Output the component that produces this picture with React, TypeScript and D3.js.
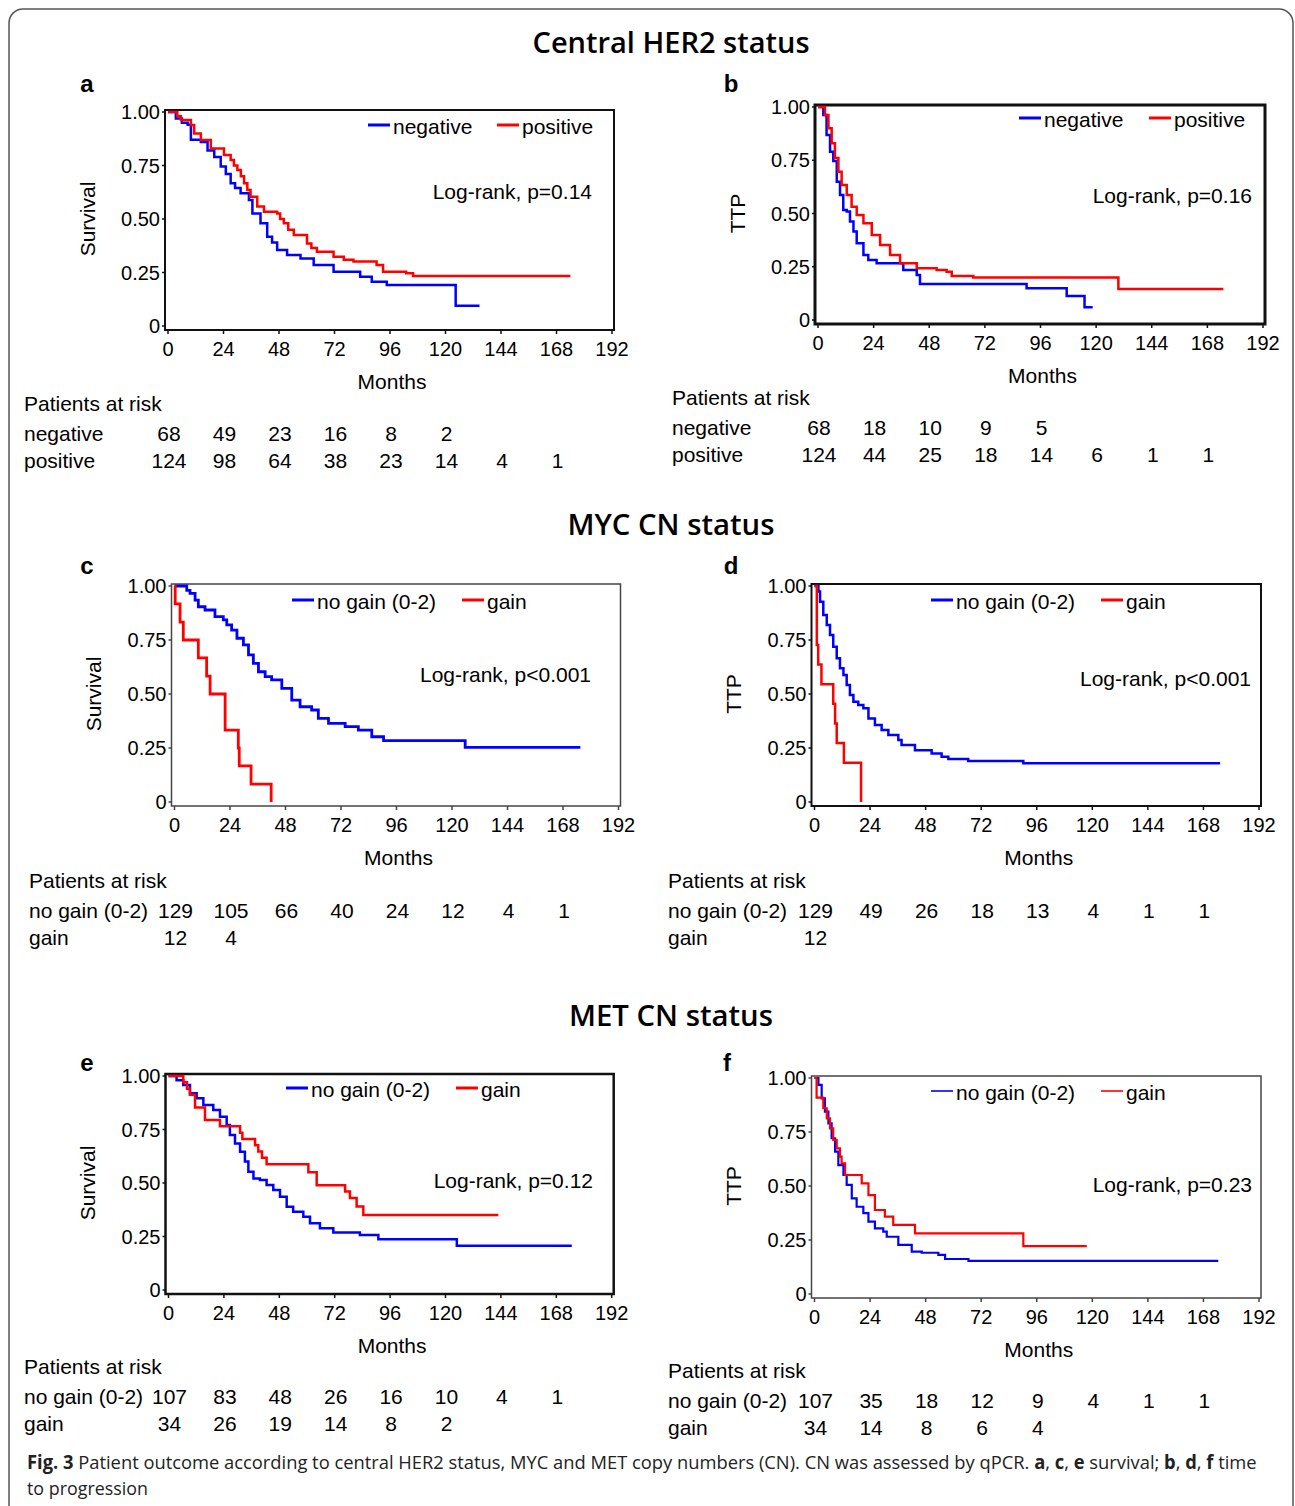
import React, { useLayoutEffect, useRef, useState } from 'react';
import * as d3 from 'd3';

type Pt = [number, number];

const MONTH_TICKS = [0, 24, 48, 72, 96, 120, 144, 168, 192];
const PROB_TICKS = [0, 0.25, 0.5, 0.75, 1];
const PROB_LABELS = ['0', '0.25', '0.50', '0.75', '1.00'];

// a: overall survival by central HER2
const HER2_OS_NEG: Pt[] = [
  [0, 1], [3.4, 0.97], [6, 0.95], [8.5, 0.94], [9.9, 0.87], [14.2, 0.86], [17.1, 0.82], [20, 0.79],
  [22.8, 0.745], [25, 0.71], [27.1, 0.667], [29, 0.645], [31.4, 0.62], [35, 0.589], [36.5, 0.526],
  [40, 0.48], [42.9, 0.417], [45, 0.39], [47.2, 0.355], [51.5, 0.332], [57.3, 0.316], [63, 0.285],
  [71.6, 0.254], [83.1, 0.23], [88.1, 0.207], [94.6, 0.192], [124.4, 0.095], [134.7, 0.095],
];
const HER2_OS_POS: Pt[] = [
  [0, 1], [4, 0.98], [5.6, 0.963], [9.9, 0.939], [11.3, 0.9], [14.2, 0.869], [18.5, 0.83], [24.2, 0.799],
  [27.1, 0.776], [28.5, 0.75], [30, 0.729], [31.5, 0.7], [32.9, 0.667], [34.3, 0.635], [35.7, 0.604],
  [38.6, 0.558], [41.5, 0.534], [47.2, 0.526], [48.5, 0.5], [50.1, 0.48], [52, 0.45], [54.4, 0.425],
  [60.1, 0.386], [62, 0.365], [64.4, 0.347], [71.6, 0.324], [76, 0.31], [80.2, 0.301], [90.2, 0.285],
  [93, 0.254], [103, 0.246], [106, 0.234], [174, 0.234],
];
// b: TTP by central HER2
const HER2_TTP_NEG: Pt[] = [
  [0, 1], [2.3, 0.962], [3.7, 0.869], [5.2, 0.79], [6.6, 0.746], [8.1, 0.649], [9.5, 0.587], [10.9, 0.516],
  [12.4, 0.509], [13.8, 0.462], [15.3, 0.415], [16.7, 0.36], [19.6, 0.305], [21.7, 0.282], [25.3, 0.266],
  [36.8, 0.235], [42.6, 0.211], [44, 0.169], [90, 0.149], [107.3, 0.113], [115, 0.06], [118.5, 0.06],
];
const HER2_TTP_POS: Pt[] = [
  [0, 1], [3, 0.962], [4.5, 0.9], [5.9, 0.83], [7.3, 0.76], [8.8, 0.696], [10.2, 0.634], [12.4, 0.587],
  [14.5, 0.532], [16.7, 0.493], [19.6, 0.454], [23.2, 0.399], [26.8, 0.352], [31.1, 0.305], [35.4, 0.266],
  [42.6, 0.243], [51.2, 0.235], [55.5, 0.227], [57.7, 0.207], [67, 0.2], [129.6, 0.146], [174.9, 0.146],
];
// c: overall survival by MYC CN
const MYC_OS_NOGAIN: Pt[] = [
  [0, 1], [5.3, 0.98], [6.7, 0.966], [8.9, 0.935], [10.3, 0.904], [13.2, 0.889], [17.5, 0.858], [21.1, 0.843],
  [22.6, 0.82], [24.7, 0.796], [27, 0.758], [29.8, 0.727], [32, 0.681], [34.1, 0.642], [36.3, 0.603],
  [39.2, 0.58], [42, 0.565], [46.4, 0.526], [50.7, 0.472], [54.3, 0.441], [59.3, 0.426], [62.2, 0.387],
  [66.6, 0.364], [73.8, 0.349], [79.5, 0.333], [85.3, 0.302], [90.4, 0.284], [125.7, 0.253], [175.5, 0.253],
];
const MYC_OS_GAIN: Pt[] = [
  [0, 1], [0.3, 0.917], [2.4, 0.833], [3.8, 0.75], [10.3, 0.667], [13.9, 0.583], [15.4, 0.5],
  [21.9, 0.333], [27.6, 0.25], [28, 0.167], [33.1, 0.083], [41.8, 0],
];
// d: TTP by MYC CN
const MYC_TTP_NOGAIN: Pt[] = [
  [0, 1], [1.7, 0.974], [2.4, 0.927], [3.8, 0.866], [5.3, 0.82], [6.7, 0.773], [8.1, 0.719], [9.6, 0.665],
  [11, 0.619], [12.5, 0.588], [13.9, 0.542], [15.3, 0.495], [16.8, 0.464], [18.9, 0.449], [21.1, 0.434],
  [23.3, 0.387], [26.1, 0.356], [29, 0.333], [31.9, 0.31], [36.2, 0.287], [37.6, 0.264], [43.4, 0.24],
  [50.6, 0.225], [54.9, 0.21], [57.8, 0.199], [66.4, 0.19], [90.2, 0.179], [175.2, 0.179],
];
const MYC_TTP_GAIN: Pt[] = [
  [0, 1], [1, 0.727], [1.6, 0.636], [3, 0.545], [8.1, 0.455], [8.9, 0.364], [9.6, 0.273], [12.7, 0.182], [20.1, 0],
];
// e: overall survival by MET CN
const MET_OS_NOGAIN: Pt[] = [
  [0, 1], [3.5, 0.98], [6.4, 0.958], [9.3, 0.919], [12.2, 0.896], [15.1, 0.864], [19.4, 0.841], [22.3, 0.81],
  [25.2, 0.771], [26.6, 0.724], [28.8, 0.685], [31, 0.646], [33.1, 0.6], [34.6, 0.553], [36.8, 0.521],
  [39.6, 0.514], [42.5, 0.491], [45.4, 0.467], [48.3, 0.436], [51.2, 0.389], [54, 0.366], [58.4, 0.342],
  [61.3, 0.312], [65.6, 0.288], [71.4, 0.269], [82.9, 0.257], [90.9, 0.237], [124.9, 0.207], [174.7, 0.207],
];
const MET_OS_GAIN: Pt[] = [
  [0, 1], [6.4, 0.971], [8, 0.941], [9.3, 0.912], [11.5, 0.853], [15.8, 0.794], [22.3, 0.765], [31, 0.735],
  [32, 0.706], [37.5, 0.676], [38.9, 0.647], [40.5, 0.618], [42.5, 0.588], [60.6, 0.55], [64.2, 0.49],
  [76.5, 0.46], [78.6, 0.43], [81.5, 0.39], [84.4, 0.35], [142.9, 0.35],
];
// f: TTP by MET CN
const MET_TTP_NOGAIN: Pt[] = [
  [0, 1], [1.7, 0.968], [3.1, 0.906], [4.5, 0.844], [6, 0.79], [7.4, 0.721], [8.9, 0.659], [10.3, 0.597],
  [12.5, 0.551], [13.9, 0.505], [16.1, 0.443], [18.2, 0.404], [21.1, 0.374], [23.3, 0.335], [26.1, 0.304],
  [29.7, 0.289], [31.2, 0.265], [36.2, 0.227], [42, 0.196], [46.3, 0.191], [53.5, 0.181], [56.4, 0.162],
  [66.5, 0.153], [174.4, 0.153],
];
const MET_TTP_GAIN: Pt[] = [
  [0, 1], [0.9, 0.909], [3.8, 0.86], [5.3, 0.813], [6.7, 0.767], [8.1, 0.713], [9.6, 0.674], [11, 0.636],
  [11.7, 0.605], [13.2, 0.551], [20.4, 0.512], [23.3, 0.458], [26.1, 0.389], [30.4, 0.358], [34, 0.32],
  [43.4, 0.281], [90.2, 0.222], [117.6, 0.222],
];

// patients at risk, at 0, 24, 48 ... months
const RISK_A_NEG = [68, 49, 23, 16, 8, 2];
const RISK_A_POS = [124, 98, 64, 38, 23, 14, 4, 1];
const RISK_B_NEG = [68, 18, 10, 9, 5];
const RISK_B_POS = [124, 44, 25, 18, 14, 6, 1, 1];
const RISK_C_NOGAIN = [129, 105, 66, 40, 24, 12, 4, 1];
const RISK_C_GAIN = [12, 4];
const RISK_D_NOGAIN = [129, 49, 26, 18, 13, 4, 1, 1];
const RISK_D_GAIN = [12];
const RISK_E_NOGAIN = [107, 83, 48, 26, 16, 10, 4, 1];
const RISK_E_GAIN = [34, 26, 19, 14, 8, 2];
const RISK_F_NOGAIN = [107, 35, 18, 12, 9, 4, 1, 1];
const RISK_F_GAIN = [34, 14, 8, 6, 4];

const HER2_GROUPS = ['negative', 'positive'];
const CN_GROUPS = ['no gain (0-2)', 'gain'];
const COLORS = ['#0000ff', '#ff0000'];

const FONT = '"Liberation Sans", Arial, sans-serif';

const panels = [
  { letter: 'a', letterX: 87, letterY: 83, yLabel: 'Survival', groups: HER2_GROUPS, curves: [HER2_OS_NEG, HER2_OS_POS], risk: [RISK_A_NEG, RISK_A_POS],
    p: 'Log-rank, p=0.14', x0: 168, x1: 612, yTop: 112, yBot: 326, frameW: 2,
    leg: [368, 497], legY: 125, lrX: 592, lrY: 191, riskX: 24, riskY: 403, lineW: 2.5 },
  { letter: 'b', letterX: 731, letterY: 83, yLabel: 'TTP', groups: HER2_GROUPS, curves: [HER2_TTP_NEG, HER2_TTP_POS], risk: [RISK_B_NEG, RISK_B_POS],
    p: 'Log-rank, p=0.16', x0: 818, x1: 1263, yTop: 107, yBot: 320, frameW: 3,
    leg: [1019, 1149], legY: 118, lrX: 1252, lrY: 195, riskX: 672, riskY: 397, lineW: 2.5 },
  { letter: 'c', letterX: 87, letterY: 565, yLabel: 'Survival', groups: CN_GROUPS, curves: [MYC_OS_NOGAIN, MYC_OS_GAIN], risk: [RISK_C_NOGAIN, RISK_C_GAIN],
    p: 'Log-rank, p<0.001', x0: 174.5, x1: 618.5, yTop: 586, yBot: 802, frameW: 1.5,
    leg: [292, 462], legY: 600, lrX: 591, lrY: 674, riskX: 29, riskY: 880, lineW: 2.8 },
  { letter: 'd', letterX: 731, letterY: 565, yLabel: 'TTP', groups: CN_GROUPS, curves: [MYC_TTP_NOGAIN, MYC_TTP_GAIN], risk: [RISK_D_NOGAIN, RISK_D_GAIN],
    p: 'Log-rank, p<0.001', x0: 814.5, x1: 1259, yTop: 586, yBot: 802, frameW: 2,
    leg: [931, 1101], legY: 600, lrX: 1251, lrY: 678, riskX: 668, riskY: 880, lineW: 2.5 },
  { letter: 'e', letterX: 87, letterY: 1062, yLabel: 'Survival', groups: CN_GROUPS, curves: [MET_OS_NOGAIN, MET_OS_GAIN], risk: [RISK_E_NOGAIN, RISK_E_GAIN],
    p: 'Log-rank, p=0.12', x0: 168.5, x1: 611.7, yTop: 1076, yBot: 1290, frameW: 2.5,
    leg: [286, 456], legY: 1088, lrX: 593, lrY: 1180, riskX: 24, riskY: 1366, lineW: 2.5 },
  { letter: 'f', letterX: 727, letterY: 1062, yLabel: 'TTP', groups: CN_GROUPS, curves: [MET_TTP_NOGAIN, MET_TTP_GAIN], risk: [RISK_F_NOGAIN, RISK_F_GAIN],
    p: 'Log-rank, p=0.23', x0: 814.5, x1: 1259, yTop: 1078, yBot: 1294, frameW: 1.5,
    leg: [931, 1101], legY: 1091, lrX: 1252, lrY: 1184, riskX: 668, riskY: 1370, lineW: 2.2 },
];

const sections = [
  { text: 'Central HER2 status', y: 42, w: 277 },
  { text: 'MYC CN status', y: 524, w: 207 },
  { text: 'MET CN status', y: 1015, w: 204 },
];

function Panel({ cfg }: { cfg: any }) {
  const x = d3.scaleLinear().domain([0, 192]).range([cfg.x0, cfg.x1]);
  const y = d3.scaleLinear().domain([0, 1]).range([cfg.yBot, cfg.yTop]);
  const line = d3.line<Pt>().x((d) => x(d[0])).y((d) => y(d[1])).curve(d3.curveStepAfter);
  const fl = cfg.x0 - 3;
  const fr = cfg.x1 + 2;
  const ft = cfg.yTop - 2;
  const fb = cfg.yBot + 4;
  const frameColor = cfg.frameW < 2 ? '#444' : '#111';

  return (
    <g fontFamily={FONT} fill="#000">
      {/* panel letter */}
      <text x={cfg.letterX} y={cfg.letterY} fontSize={24} fontWeight="bold" textAnchor="middle" dominantBaseline="central">
        {cfg.letter}
      </text>
      {/* y axis label */}
      <text transform={`translate(${cfg.x0 - 81},${(cfg.yTop + cfg.yBot) / 2}) rotate(-90)`} fontSize={21}
        textAnchor="middle" dominantBaseline="central">
        {cfg.yLabel}
      </text>
      {/* frame */}
      <rect x={fl} y={ft} width={fr - fl} height={fb - ft} fill="#fff" stroke={frameColor} strokeWidth={cfg.frameW} />
      {MONTH_TICKS.map((t) => (
        <g key={t}>
          <line x1={x(t)} x2={x(t)} y1={fb} y2={fb + 4} stroke={frameColor} strokeWidth={1.5} />
          <text x={x(t)} y={cfg.yBot + 23} fontSize={20} textAnchor="middle" dominantBaseline="central">{t}</text>
        </g>
      ))}
      {PROB_TICKS.map((v, i) => (
        <g key={v}>
          <line x1={fl} x2={fl - 3} y1={y(v)} y2={y(v)} stroke={frameColor} strokeWidth={1.5} />
          <text x={fl - 5} y={y(v)} fontSize={20} textAnchor="end" dominantBaseline="central">{PROB_LABELS[i]}</text>
        </g>
      ))}
      <text x={(cfg.x0 + cfg.x1) / 2 + 2} y={cfg.yBot + 55} fontSize={21} textAnchor="middle" dominantBaseline="central">
        Months
      </text>
      {/* curves */}
      {cfg.curves.map((c: Pt[], i: number) => (
        <path key={i} d={line(c) || ''} fill="none" stroke={COLORS[i]} strokeWidth={cfg.lineW} />
      ))}
      {/* legend */}
      {cfg.groups.map((g: string, i: number) => (
        <g key={g}>
          <line x1={cfg.leg[i]} x2={cfg.leg[i] + 22} y1={cfg.legY} y2={cfg.legY} stroke={COLORS[i]}
            strokeWidth={cfg.letter === 'f' ? 1.6 : 3} />
          <text x={cfg.leg[i] + 25} y={cfg.legY + 1} fontSize={21} dominantBaseline="central">{g}</text>
        </g>
      ))}
      <text x={cfg.lrX} y={cfg.lrY} fontSize={21} textAnchor="end" dominantBaseline="central">{cfg.p}</text>
      {/* patients at risk */}
      <text x={cfg.riskX} y={cfg.riskY} fontSize={21} dominantBaseline="central">Patients at risk</text>
      {cfg.groups.map((g: string, i: number) => {
        const ry = cfg.riskY + 30 + i * 27;
        return (
          <g key={g}>
            <text x={cfg.riskX} y={ry} fontSize={21} dominantBaseline="central">{g}</text>
            {cfg.risk[i].map((n: number, j: number) => (
              <text key={j} x={x(MONTH_TICKS[j]) + 1} y={ry} fontSize={21} textAnchor="middle" dominantBaseline="central">
                {n}
              </text>
            ))}
          </g>
        );
      })}
    </g>
  );
}

function Caption() {
  const ref1 = useRef<SVGTextElement>(null);
  const ref2 = useRef<SVGTextElement>(null);
  const [s, setS] = useState<[number, number]>([1, 1]);
  useLayoutEffect(() => {
    const w1 = ref1.current ? ref1.current.getBBox().width : 1231;
    const w2 = ref2.current ? ref2.current.getBBox().width : 121;
    setS([Math.min(1, 1231 / w1), Math.min(1, 121 / w2)]);
  }, []);
  return (
    <g fontFamily='"Open Sans", sans-serif' fontSize={19} fill="#222">
      <text ref={ref1} transform={`translate(27,1461) scale(${s[0]},1)`} dominantBaseline="central">
        <tspan fontWeight="bold">Fig. 3</tspan>
        <tspan>{'  Patient outcome according to central HER2 status, MYC and MET copy numbers (CN). CN was assessed by qPCR. '}</tspan>
        <tspan fontWeight="bold">a</tspan>
        <tspan>, </tspan>
        <tspan fontWeight="bold">c</tspan>
        <tspan>, </tspan>
        <tspan fontWeight="bold">e</tspan>
        <tspan> survival; </tspan>
        <tspan fontWeight="bold">b</tspan>
        <tspan>, </tspan>
        <tspan fontWeight="bold">d</tspan>
        <tspan>, </tspan>
        <tspan fontWeight="bold">f</tspan>
        <tspan> time</tspan>
      </text>
      <text ref={ref2} transform={`translate(27,1487) scale(${s[1]},1)`} dominantBaseline="central">
        to progression
      </text>
    </g>
  );
}

export default function App() {
  return (
    <svg width={1295} height={1506} style={{ position: 'absolute', left: 0, top: 0, background: '#fff' }}>
      <rect x={9} y={9} width={1284} height={1520} rx={14} fill="#fff" stroke="#555" strokeWidth={1.5} />
      {sections.map((s) => (
        <text key={s.text} x={671} y={s.y} fontFamily='"Open Sans", sans-serif' fontWeight={600} fontSize={28}
          textAnchor="middle" dominantBaseline="central" textLength={s.w} lengthAdjust="spacingAndGlyphs">
          {s.text}
        </text>
      ))}
      {panels.map((cfg) => (
        <Panel key={cfg.letter} cfg={cfg} />
      ))}
      <Caption />
    </svg>
  );
}
